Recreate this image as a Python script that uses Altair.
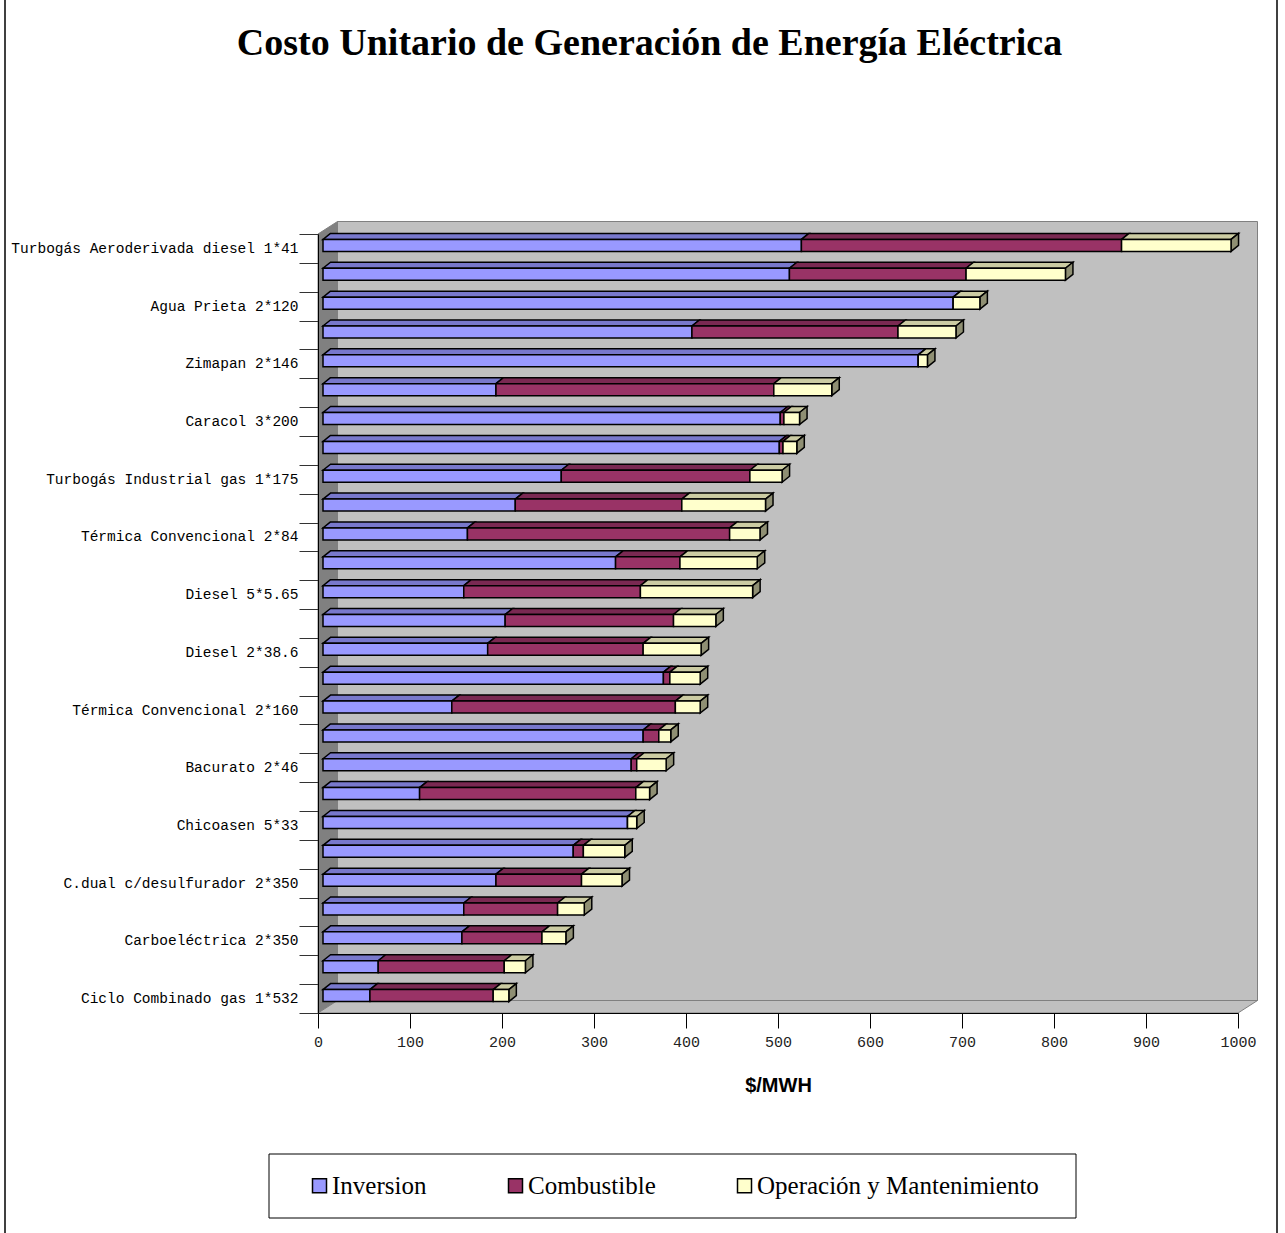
import json
import altair as alt
import pandas as pd

# ---- data -------------------------------------------------------------
TITLE = "Costo Unitario de Generación de Energía Eléctrica"

# plants from top to bottom (only every other one carries a printed label)
plants = [
    "Turbogás Aeroderivada diesel 1*41", "",
    "Agua Prieta 2*120", "",
    "Zimapan 2*146", "",
    "Caracol 3*200", "",
    "Turbogás Industrial gas 1*175", "",
    "Térmica Convencional 2*84", "",
    "Diesel 5*5.65", "",
    "Diesel 2*38.6", "",
    "Térmica Convencional 2*160", "",
    "Bacurato 2*46", "",
    "Chicoasen 5*33", "",
    "C.dual c/desulfurador 2*350", "",
    "Carboeléctrica 2*350", "",
    "Ciclo Combinado gas 1*532",
]

series = ["Inversion", "Combustible", "Operación y Mantenimiento"]

inversion = [520, 507, 685, 401, 647, 188, 497, 496, 259, 209, 157, 318, 153, 198,
             179, 370, 140, 348, 335, 105, 331, 272, 188, 153, 151, 60, 51]
combustible = [348, 192, 0, 224, 0, 302, 4, 4, 205, 181, 285, 70, 192, 183,
               169, 7, 243, 17, 6, 235, 0, 11, 93, 102, 87, 137, 134]
operacion = [119, 108, 29, 63, 10, 63, 17, 15, 35, 91, 33, 84, 122, 46,
             63, 33, 27, 13, 32, 15, 10, 45, 44, 29, 26, 23, 17]

x_ticks = list(range(0, 1001, 100))

# ---- styling / geometry ----------------------------------------------
FRONT = ["#9999FF", "#993366", "#FFFFCC"]
TOP = ["#7878CC", "#7A2952", "#CCCCA3"]
SIDE = ["#5C5C99", "#5C1F3D", "#8F8F73"]

W, H = 920, 779              # front plane of the plot
N = len(plants)
X_MAX = 1000
PX_X = W / X_MAX             # pixels per $/MWH
PX_Y = H / N                 # pixels per category
WALL_DX, WALL_DY = 19.5, 12.5
BAR_DX, BAR_DY = 7.5, 6.0    # depth of each 3-D bar
BAR_H = 12.0                 # height of a bar's front face
SHIFT_X, SHIFT_Y = 5, -3     # bars sit slightly behind the front plane

dxu, dyu = BAR_DX / PX_X, BAR_DY / PX_Y
wdx, wdy = WALL_DX / PX_X, WALL_DY / PX_Y

front_rows, top_rows, side_rows = [], [], []
for i in range(N):
    vals = [inversion[i], combustible[i], operacion[i]]
    yt = i + 0.5 - BAR_H / 2 / PX_Y
    yb = i + 0.5 + BAR_H / 2 / PX_Y
    start = 0
    last = max(k for k in range(3) if vals[k] > 0)
    for k, v in enumerate(vals):
        end = start + v
        key = f"{i}-{k}"
        front_rows.append(dict(serie=series[k], x0=start, x1=end, yt=yt, yb=yb))
        top_rows.append(dict(key=key, serie=series[k], y=yt, xa=start, xb=end))
        top_rows.append(dict(key=key, serie=series[k], y=yt - dyu, xa=start + dxu, xb=end + dxu))
        if k == last:
            side_rows.append(dict(key=key, serie=series[k], x=end, ya=yt, yb=yb))
            side_rows.append(dict(key=key, serie=series[k], x=end + dxu, ya=yt - dyu, yb=yb - dyu))
        start = end

front_df = pd.DataFrame(front_rows)
top_df = pd.DataFrame(top_rows)
side_df = pd.DataFrame(side_rows)
one = pd.DataFrame({"k": [0]})

xs = alt.Scale(domain=[0, X_MAX], nice=False, zero=False)
ys = alt.Scale(domain=[N, 0], nice=False, zero=False)

# ---- axes (same definition on every layer, so they merge into one) ----
label_array = "[" + ",".join(json.dumps(p, ensure_ascii=False) for p in plants) + "]"
y_values = list(range(N + 1)) + [i + 0.5 for i in range(0, N, 2)]

x_axis = alt.Axis(
    values=x_ticks, format="d", title="$/MWH", titleFont="Liberation Sans",
    titleFontSize=20, titleFontWeight="bold", titleColor="black", titlePadding=26,
    labelFont="Liberation Mono", labelFontSize=15, labelColor="#222222",
    labelPadding=6, labelFlush=False, tickSize=15, tickColor="black",
    domainColor="black", grid=False, zindex=1,
)
y_axis = alt.Axis(
    values=y_values,
    labelExpr=f"datum.value % 1 ? {label_array}[floor(datum.value)] : ''",
    tickOpacity={"condition": {"test": "datum.value % 1 == 0", "value": 1}, "value": 0},
    tickSize=19, tickColor="#333333", domainColor="black",
    labelFont="Liberation Mono", labelFontSize=14.5, labelColor="black",
    labelPadding=1, labelOverlap=False, labelLimit=0, title=None, grid=False, zindex=1,
)


def X(field, **kw):
    return alt.X(field, type="quantitative", scale=xs, axis=x_axis, **kw)


def Y(field, **kw):
    return alt.Y(field, type="quantitative", scale=ys, axis=y_axis, **kw)


# ---- chart frame: back wall, side wall and floor ----------------------
back_df = pd.DataFrame({"bx0": [wdx], "bx1": [X_MAX + wdx], "by0": [-wdy], "by1": [N - wdy]})
back_wall = alt.Chart(back_df).mark_rect(fill="#C0C0C0", stroke="#808080", strokeWidth=1).encode(
    x=X("bx0"), x2="bx1:Q", y=Y("by0"), y2="by1:Q",
)
side_wall_df = pd.DataFrame({"wx": [0, wdx], "top": [0, -wdy], "bot": [N, N - wdy]})
side_wall = alt.Chart(side_wall_df).mark_area(
    orient="vertical", fill="#808080", stroke="#808080", strokeWidth=1
).encode(
    x=X("wx"), y=Y("top", stack=None), y2="bot:Q",
)
floor_df = pd.DataFrame({"fy": [N - wdy, N], "xa": [wdx, 0], "xb": [X_MAX + wdx, X_MAX]})
floor = alt.Chart(floor_df).mark_area(
    orient="horizontal", fill="#C0C0C0", stroke="#808080", strokeWidth=1
).encode(
    y=Y("fy"), x=X("xa", stack=None), x2="xb:Q",
)

# ---- 3-D stacked bars -------------------------------------------------
top_faces = alt.Chart(top_df).mark_area(
    orient="horizontal", stroke="black", strokeWidth=1.5,
    xOffset=SHIFT_X, x2Offset=SHIFT_X, yOffset=SHIFT_Y,
).encode(
    y=Y("y"),
    x=X("xa", stack=None),
    x2="xb:Q",
    detail="key:N",
    fill=alt.Fill("serie:N", scale=alt.Scale(domain=series, range=TOP), legend=None),
)
side_faces = alt.Chart(side_df).mark_area(
    orient="vertical", stroke="black", strokeWidth=1.5,
    xOffset=SHIFT_X, yOffset=SHIFT_Y, y2Offset=SHIFT_Y,
).encode(
    x=X("x"),
    y=Y("ya", stack=None),
    y2="yb:Q",
    detail="key:N",
    fill=alt.Fill("serie:N", scale=alt.Scale(domain=series, range=SIDE), legend=None),
)
front_faces = alt.Chart(front_df).mark_rect(
    stroke="black", strokeWidth=1.5,
    xOffset=SHIFT_X, x2Offset=SHIFT_X, yOffset=SHIFT_Y, y2Offset=SHIFT_Y,
).encode(
    x=X("x0"),
    x2="x1:Q",
    y=Y("yt"),
    y2="yb:Q",
    color=alt.Color(
        "serie:N",
        scale=alt.Scale(domain=series, range=FRONT),
        legend=alt.Legend(
            title=None, orient="none", legendX=-11, legendY=939,
            direction="horizontal", symbolType="square", symbolSize=196,
            symbolStrokeColor="black", symbolStrokeWidth=1.5,
            labelFont="Liberation Serif", labelFontSize=25, labelColor="black",
            labelOffset=0, labelLimit=0, columnPadding=76, padding=0,
        ),
    ),
)

# ---- surrounding decorations -----------------------------------------
legend_box = alt.Chart(one).mark_rect(fill="white", stroke="black", strokeWidth=1).encode(
    x=alt.value(-49), x2=alt.value(758), y=alt.value(920), y2=alt.value(984),
)
frame_left = alt.Chart(one).mark_rule(color="black", strokeWidth=1.5).encode(
    x=alt.value(5 - 318), y=alt.value(-240), y2=alt.value(1010),
)
frame_right = alt.Chart(one).mark_rule(color="black", strokeWidth=1.5).encode(
    x=alt.value(1277 - 318), y=alt.value(-240), y2=alt.value(1010),
)
title = alt.Chart(one).mark_text(
    text=TITLE, font="Liberation Serif", fontSize=38, fontWeight="bold",
    align="center", baseline="alphabetic", color="black",
).encode(x=alt.value(649.5 - 318), y=alt.value(54.5 - 234))

chart = alt.layer(
    back_wall, side_wall, floor, legend_box,
    top_faces, side_faces, front_faces,
    frame_left, frame_right, title,
).resolve_scale(
    fill="independent"
).properties(
    width=W, height=H,
    padding={"left": 318, "top": 234, "right": 47, "bottom": 220},
    autosize="none",
    background="white",
).configure_view(stroke=None)

chart.save("out.html", embed_options={"renderer": "svg", "actions": False})
